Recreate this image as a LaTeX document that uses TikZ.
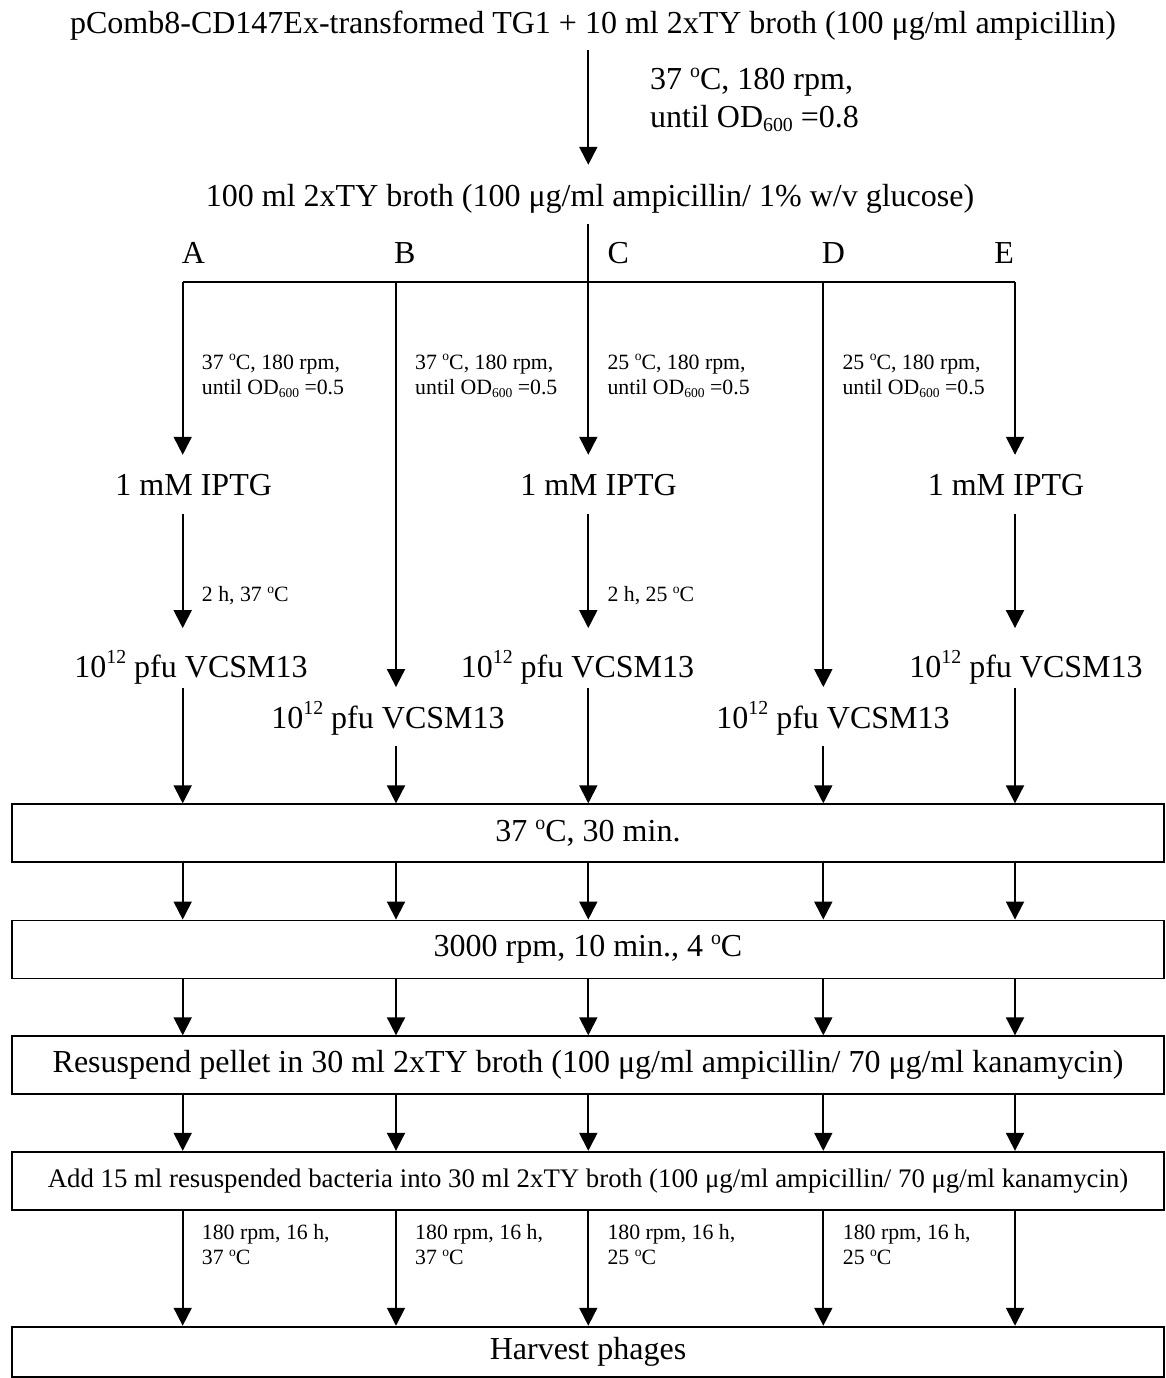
\documentclass[tikz,border=0pt]{standalone}
\usepackage{fontspec}
\setmainfont{Liberation Serif}
\usepackage{graphicx}
\usetikzlibrary{arrows.meta}
\newcommand\bigf{\fontsize{32}{38.4}\selectfont}
\newcommand\smf{\fontsize{21.8}{25.7}\selectfont}
\newcommand\bxf{\fontsize{26.8}{32}\selectfont}
\newcommand\dg{\raisebox{0.38em}{\scalebox{0.62}{o}}}
\newcommand\upsup[1]{\raisebox{0.42em}{\scalebox{0.62}{#1}}}
\newcommand\lowsub[1]{\raisebox{-0.12em}{\scalebox{0.62}{#1}}}
\newcommand\twol[2]{\begin{tabular}[t]{@{}l@{}}#1\\#2\end{tabular}}
\begin{document}
\begin{tikzpicture}[x=1pt,y=-1pt,
  txt/.style={inner sep=0, font=\bigf},
  sm/.style={inner sep=0, anchor=base west, font=\smf},
  ln/.style={line width=1.9pt},
  arr/.style={line width=1.9pt, -{Triangle[width=18pt,length=18pt]}},
  bx/.style={draw, line width=1.9pt, minimum width=1152.6pt, minimum height=58pt, inner sep=0, font=\bigf}]
\useasboundingbox (0,0) rectangle (1166,1378);
% branch points
\coordinate (xA) at (182.7,282.3);
\coordinate (xB) at (396,282.3);
\coordinate (xC) at (588.3,282.3);
\coordinate (xD) at (823.3,282.3);
\coordinate (xE) at (1015,282.3);
% top
\node[txt, anchor=base, text depth=16.7pt] (title) at (593,33.3) {pComb8-CD147Ex-transformed TG1 + 10 ml 2xTY broth (100 μg/ml ampicillin)};
\node[txt, anchor=base west] (toplab) at (650,89.3) {\twol{37 \dg C, 180 rpm,}{until OD\lowsub{600} =0.8}};
\node[txt, anchor=base, text height=41.7pt, text depth=17.3pt] (mid) at (590,206.7) {100 ml 2xTY broth (100 μg/ml ampicillin/ 1\% w/v glucose)};
% letters
\node[txt, anchor=base west] (lA) at (181.7,263.3) {A};
\node[txt, anchor=base west] (lB) at (394,263.3) {B};
\node[txt, anchor=base west] (lC) at (607.3,263.3) {C};
\node[txt, anchor=base west] (lD) at (821.7,263.3) {D};
\node[txt, anchor=base east] (lE) at (1014,263.3) {E};
% small labels
\node[sm] (sA) at (201.7,369) {\twol{37 \dg C, 180 rpm,}{until OD\lowsub{600} =0.5}};
\node[sm] (sB) at (415,369) {\twol{37 \dg C, 180 rpm,}{until OD\lowsub{600} =0.5}};
\node[sm] (sC) at (607.3,369) {\twol{25 \dg C, 180 rpm,}{until OD\lowsub{600} =0.5}};
\node[sm] (sD) at (842.3,369) {\twol{25 \dg C, 180 rpm,}{until OD\lowsub{600} =0.5}};
% IPTG
\node[txt, anchor=base, text height=40.7pt, text depth=17.6pt] (iA) at (193.7,495.7) {1 mM IPTG};
\node[txt, anchor=base, text height=40.7pt, text depth=17.6pt] (iC) at (598.5,495.7) {1 mM IPTG};
\node[txt, anchor=base, text height=40.7pt, text depth=17.6pt] (iE) at (1006,495.7) {1 mM IPTG};
\node[sm] (hA) at (201.7,601.7) {2 h, 37 \dg C};
\node[sm] (hC) at (607.3,601.7) {2 h, 25 \dg C};
% VCSM13
\node[txt, anchor=base, text height=49pt, text depth=10pt] (vA) at (191,677.3) {10\upsup{12} pfu VCSM13};
\node[txt, anchor=base, text height=49pt, text depth=10pt] (vC) at (577.5,677.3) {10\upsup{12} pfu VCSM13};
\node[txt, anchor=base, text height=49pt, text depth=10pt] (vE) at (1026,677.3) {10\upsup{12} pfu VCSM13};
\node[txt, anchor=base, text height=41pt, text depth=17.4pt] (vB) at (388,728.3) {10\upsup{12} pfu VCSM13};
\node[txt, anchor=base, text height=41pt, text depth=17.4pt] (vD) at (833,728.3) {10\upsup{12} pfu VCSM13};
% boxes
\node[bx] (b1) at (588,833.3) {37 \dg C, 30 min.};
\node[bx] (b2) at (588,949.5) {3000 rpm, 10 min., 4 \dg C};
\node[bx] (b3) at (588,1065.3) {Resuspend pellet in 30 ml 2xTY broth (100 μg/ml ampicillin/ 70 μg/ml kanamycin)};
\node[bx, font=\bxf] (b4) at (588,1180.8) {Add 15 ml resuspended bacteria into 30 ml 2xTY broth (100 μg/ml ampicillin/ 70 μg/ml kanamycin)};
\node[bx, minimum height=50.3pt] (b5) at (588,1351.85) {Harvest phages};
% bottom labels
\node[sm] (rA) at (201.7,1239) {\twol{180 rpm, 16 h,}{37 \dg C}};
\node[sm] (rB) at (415,1239) {\twol{180 rpm, 16 h,}{37 \dg C}};
\node[sm] (rC) at (607.3,1239) {\twol{180 rpm, 16 h,}{25 \dg C}};
\node[sm] (rD) at (842.7,1239) {\twol{180 rpm, 16 h,}{25 \dg C}};
% connectors
\draw[arr] (title.south -| xC) -- (mid.north -| xC);
\draw[ln] (xA) -- (xE);
\draw[arr] (mid.south -| xC) -- (iC.north -| xC);
\draw[arr] (xA) -- (iA.north -| xA);
\draw[arr] (xE) -- (iE.north -| xE);
\draw[arr] (xB) -- (vB.north -| xB);
\draw[arr] (xD) -- (vD.north -| xD);
\foreach \c/\i/\v in {xA/iA/vA, xC/iC/vC, xE/iE/vE} {
  \draw[arr] (\i.south -| \c) -- (\v.north -| \c);
}
\foreach \c/\v in {xA/vA, xB/vB, xC/vC, xD/vD, xE/vE} {
  \draw[arr] (\v.south -| \c) -- (b1.north -| \c);
}
\foreach \u/\w in {b1/b2, b2/b3, b3/b4, b4/b5} {
  \foreach \c in {xA, xB, xC, xD, xE} {
    \draw[arr] (\u.south -| \c) -- (\w.north -| \c);
  }
}
\end{tikzpicture}
\end{document}
